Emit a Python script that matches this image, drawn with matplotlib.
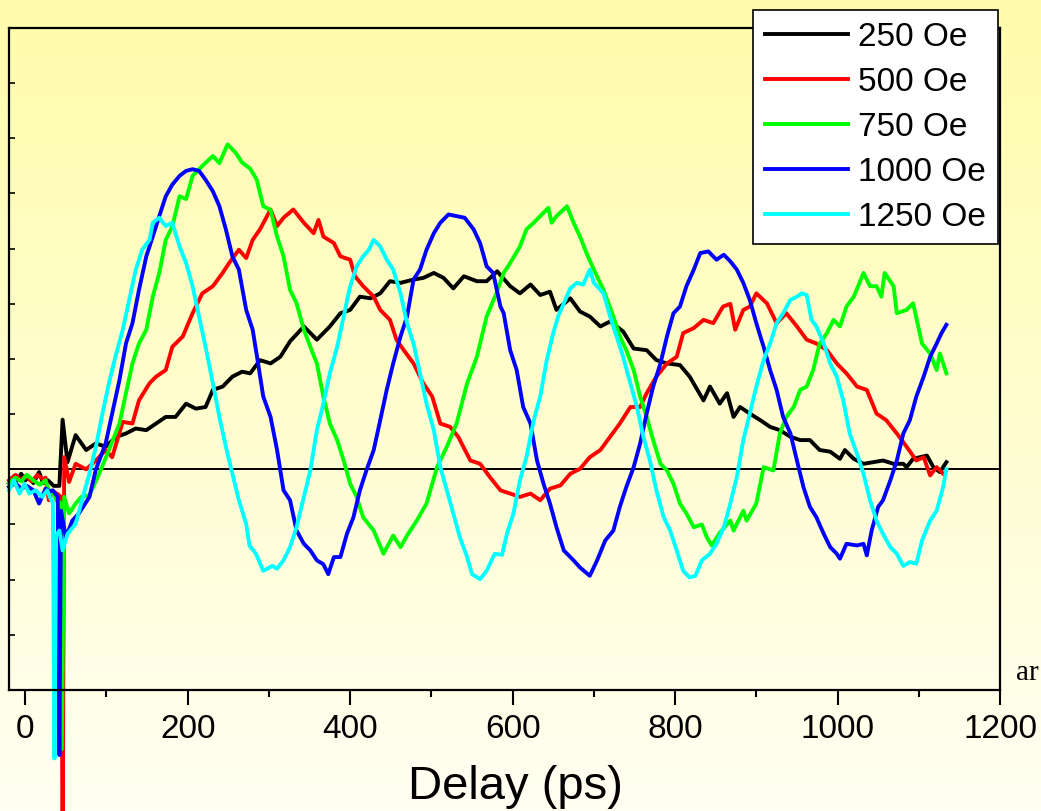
import numpy as np
import matplotlib
matplotlib.use("Agg")
import matplotlib.pyplot as plt
from matplotlib.ticker import MultipleLocator, NullFormatter

plt.rcParams['font.family'] = ['Liberation Sans', 'DejaVu Sans']

# Delay (ps) and signal (arb. units), one pair per field
labels = ["250 Oe", "500 Oe", "750 Oe", "1000 Oe", "1250 Oe"]
colors = ["#000000", "#ff0000", "#00ff00", "#0000ff", "#00ffff"]

black_t = [-20, -15, -10, -5, 0, 5, 10, 17, 22, 28, 35, 42, 46, 52, 62, 75, 87, 99, 112, 124, 136, 149, 161, 173,
           185, 198, 210, 222, 231, 243, 255, 267, 277, 289, 302, 314, 326, 343, 359, 375, 388, 400, 412, 425, 437,
           449, 462, 478, 490, 503, 515, 527, 540, 556, 568, 581, 597, 609, 622, 634, 646, 654, 671, 683, 695, 708,
           720, 736, 749, 765, 777, 790, 806, 818, 835, 843, 855, 864, 872, 880, 892, 905, 917, 929, 942, 954, 966,
           978, 991, 1003, 1009, 1020, 1032, 1044, 1056, 1069, 1081, 1085, 1093, 1110, 1118, 1126, 1134]
black_y = [-0.25, -0.15, -0.2, -0.08, -0.2, -0.15, -0.25, -0.05, -0.25, -0.2, -0.3, -0.3, 0.9, 0.13, 0.62, 0.35,
           0.47, 0.41, 0.59, 0.65, 0.74, 0.71, 0.83, 0.95, 0.95, 1.19, 1.1, 1.13, 1.44, 1.5, 1.68, 1.77, 1.74, 1.98,
           1.92, 2.04, 2.32, 2.59, 2.35, 2.59, 2.83, 2.89, 3.13, 3.1, 3.19, 3.41, 3.38, 3.44, 3.47, 3.56, 3.47, 3.28,
           3.5, 3.41, 3.41, 3.59, 3.32, 3.19, 3.35, 3.16, 3.22, 2.89, 3.1, 2.86, 2.77, 2.59, 2.68, 2.5, 2.19, 2.16,
           1.98, 1.92, 1.89, 1.68, 1.25, 1.5, 1.19, 1.38, 0.95, 1.13, 1.01, 0.89, 0.77, 0.71, 0.59, 0.53, 0.53, 0.35,
           0.32, 0.19, 0.35, 0.19, 0.1, 0.13, 0.16, 0.1, 0.1, 0.04, 0.19, 0.25, 0.04, -0.05, 0.13]

red_t = [-20, -12, -5, 0, 8, 15, 22, 25, 29, 34, 40, 44, 46, 48, 54, 62, 75, 87, 99, 107, 120, 132, 140, 153, 161,
         173, 181, 194, 206, 218, 231, 243, 251, 263, 272, 280, 289, 302, 310, 318, 330, 343, 355, 361, 367, 380,
         388, 400, 406, 416, 429, 437, 449, 457, 466, 478, 490, 501, 511, 523, 533, 548, 560, 572, 585, 597, 609,
         622, 634, 646, 659, 671, 683, 695, 708, 720, 732, 745, 757, 765, 777, 790, 802, 810, 823, 835, 847, 859,
         868, 874, 884, 892, 900, 913, 925, 937, 950, 962, 974, 987, 999, 1011, 1024, 1036, 1048, 1060, 1073, 1085,
         1097, 1106, 1114, 1122, 1130]
red_y = [-0.2, -0.1, -0.2, -0.12, -0.22, -0.1, -0.18, -0.15, -0.56, -0.4, -0.45, -0.5, -7.0, 0.22, -0.23, 0.1, 0.0,
         0.16, 0.35, 0.22, 0.86, 0.83, 1.25, 1.56, 1.68, 1.8, 2.22, 2.41, 2.83, 3.19, 3.32, 3.56, 3.74, 3.98, 3.83,
         4.16, 4.35, 4.71, 4.41, 4.56, 4.71, 4.47, 4.28, 4.52, 4.22, 4.1, 3.86, 3.8, 3.5, 3.32, 3.13, 2.89, 2.71,
         2.35, 2.16, 1.92, 1.56, 1.32, 0.83, 0.77, 0.59, 0.16, 0.1, -0.14, -0.38, -0.44, -0.5, -0.44, -0.56, -0.35,
         -0.29, -0.08, 0.01, 0.22, 0.35, 0.59, 0.83, 1.13, 1.13, 1.38, 1.68, 1.92, 2.04, 2.47, 2.56, 2.71, 2.65,
         2.95, 3.0, 2.53, 2.89, 2.95, 3.19, 3.01, 2.65, 2.83, 2.59, 2.35, 2.28, 2.16, 1.92, 1.74, 1.5, 1.44, 1.01,
         0.89, 0.65, 0.41, 0.16, 0.22, -0.11, 0.04, -0.08]

green_t = [-20, -12, -5, 2, 10, 18, 25, 29, 35, 38, 43, 45, 48, 54, 62, 69, 79, 91, 103, 116, 124, 132, 140, 149,
           157, 165, 173, 181, 190, 198, 206, 218, 231, 239, 249, 259, 267, 277, 285, 293, 302, 310, 318, 326, 334,
           343, 351, 359, 367, 375, 384, 392, 400, 408, 416, 429, 441, 453, 462, 470, 482, 494, 507, 519, 531, 544,
           556, 568, 580, 589, 597, 609, 617, 626, 638, 644, 648, 654, 667, 675, 683, 691, 700, 712, 724, 732, 740,
           749, 757, 765, 773, 782, 790, 798, 806, 814, 823, 833, 839, 845, 855, 868, 872, 884, 888, 900, 909, 921,
           929, 937, 946, 954, 962, 970, 978, 987, 995, 1003, 1011, 1020, 1032, 1040, 1048, 1054, 1058, 1069, 1073,
           1085, 1093, 1104, 1114, 1122, 1126, 1134]
green_y = [-0.25, -0.15, -0.22, -0.1, -0.2, -0.28, -0.2, -0.38, -0.45, -0.56, -0.6, -5.07, -0.5, -0.8, -0.62, -0.5,
           -0.47, -0.08, 0.35, 0.83, 1.38, 1.92, 2.28, 2.53, 3.13, 3.56, 4.16, 4.4, 4.95, 4.9, 5.32, 5.5, 5.68, 5.55,
           5.89, 5.74, 5.56, 5.45, 5.25, 4.77, 4.7, 4.22, 3.86, 3.25, 3.01, 2.53, 2.22, 1.92, 1.32, 0.83, 0.53, 0.16,
           -0.26, -0.5, -0.87, -1.11, -1.53, -1.2, -1.41, -1.2, -0.93, -0.62, 0.04, 0.41, 0.83, 1.56, 2.04, 2.77,
           3.19, 3.56, 3.74, 4.04, 4.35, 4.47, 4.65, 4.74, 4.47, 4.59, 4.77, 4.47, 4.22, 3.92, 3.62, 3.25, 2.77,
           2.41, 2.16, 1.8, 1.32, 0.95, 0.53, 0.1, -0.02, -0.26, -0.62, -0.8, -1.05, -1.0, -1.23, -1.38, -1.15,
           -0.93, -1.11, -0.75, -0.93, -0.62, 0.04, -0.02, 0.65, 0.95, 1.13, 1.44, 1.5, 1.8, 2.28, 2.47, 2.71, 2.59,
           2.95, 3.13, 3.56, 3.32, 3.32, 3.13, 3.56, 3.32, 2.83, 2.89, 3.01, 2.28, 2.1, 1.8, 2.1, 1.74]

blue_t = [-20, -12, -5, 2, 10, 17, 25, 30, 34, 40, 42, 44, 50, 58, 66, 79, 87, 99, 107, 116, 124, 132, 140, 149,
          157, 165, 173, 181, 190, 198, 206, 214, 222, 231, 239, 247, 255, 263, 272, 280, 286, 293, 302, 310, 318,
          326, 334, 343, 351, 359, 367, 373, 380, 388, 396, 404, 412, 420, 429, 437, 445, 453, 462, 470, 478, 486,
          494, 503, 511, 521, 531, 541, 552, 560, 568, 576, 585, 589, 597, 605, 613, 622, 630, 638, 646, 654, 663,
          675, 683, 695, 704, 714, 724, 732, 740, 749, 757, 765, 773, 782, 790, 798, 806, 814, 823, 831, 841, 851,
          860, 868, 876, 884, 892, 900, 909, 917, 925, 933, 942, 950, 958, 966, 974, 983, 991, 999, 1003, 1011,
          1024, 1032, 1036, 1042, 1050, 1056, 1065, 1073, 1081, 1089, 1097, 1106, 1114, 1122, 1128, 1134]
blue_y = [-0.32, -0.25, -0.35, -0.3, -0.38, -0.62, -0.35, -0.4, -0.38, -0.5, -5.18, -0.75, -1.23, -0.93, -0.8, -0.5,
          0.0, 0.47, 1.01, 1.62, 2.28, 2.65, 3.25, 3.86, 4.22, 4.59, 4.95, 5.16, 5.32, 5.41, 5.44, 5.41, 5.25, 5.04,
          4.77, 4.35, 3.86, 3.62, 2.89, 2.53, 1.98, 1.32, 0.95, 0.35, -0.38, -0.56, -1.11, -1.35, -1.47, -1.65,
          -1.72, -1.9, -1.59, -1.59, -1.17, -0.87, -0.38, -0.02, 0.35, 0.89, 1.44, 1.92, 2.41, 2.77, 3.44, 3.62,
          3.98, 4.28, 4.47, 4.62, 4.59, 4.56, 4.35, 4.1, 3.68, 3.56, 2.95, 2.83, 2.16, 1.8, 1.13, 0.83, 0.16, -0.26,
          -0.62, -1.05, -1.47, -1.65, -1.78, -1.93, -1.65, -1.29, -1.11, -0.68, -0.32, 0.04, 0.47, 1.01, 1.5, 1.92,
          2.41, 2.83, 2.95, 3.32, 3.62, 3.92, 3.95, 3.8, 3.89, 3.77, 3.62, 3.38, 3.07, 2.65, 2.22, 1.8, 1.44, 0.95,
          0.65, 0.16, -0.32, -0.68, -0.87, -1.17, -1.41, -1.53, -1.62, -1.35, -1.38, -1.35, -1.56, -1.11, -0.68,
          -0.56, -0.2, 0.16, 0.65, 0.89, 1.32, 1.68, 2.04, 2.28, 2.47, 2.62]

cyan_t = [-20, -14, -7, -1, 5, 13, 21, 27, 32, 34, 36, 38, 42, 46, 52, 62, 71, 79, 87, 95, 103, 111, 120, 128, 136,
          144, 153, 157, 165, 173, 181, 190, 198, 206, 214, 222, 231, 239, 247, 255, 263, 272, 276, 284, 293, 304,
          310, 318, 326, 334, 343, 351, 359, 367, 375, 384, 392, 400, 408, 416, 423, 429, 437, 445, 453, 462, 470,
          478, 486, 494, 503, 511, 519, 527, 535, 544, 550, 560, 568, 578, 587, 593, 601, 609, 617, 626, 634, 642,
          650, 656, 663, 671, 679, 687, 695, 700, 704, 712, 720, 728, 736, 745, 753, 761, 769, 777, 786, 794, 802,
          810, 818, 825, 833, 843, 851, 860, 868, 876, 884, 892, 900, 909, 917, 925, 933, 942, 950, 956, 962, 968,
          974, 983, 991, 999, 1007, 1015, 1024, 1032, 1040, 1048, 1056, 1065, 1073, 1081, 1089, 1097, 1104, 1114,
          1122, 1130, 1134]
cyan_y = [-0.38, -0.2, -0.44, -0.26, -0.44, -0.38, -0.5, -0.38, -0.56, -0.6, -5.24, -1.2, -1.11, -1.47, -1.17, -0.99,
          -0.5, -0.08, 0.41, 1.01, 1.56, 2.04, 2.53, 3.07, 3.62, 3.98, 4.16, 4.47, 4.56, 4.41, 4.47, 4.04, 3.74,
          3.32, 2.77, 2.22, 1.56, 0.95, 0.41, -0.08, -0.56, -0.99, -1.38, -1.53, -1.84, -1.75, -1.8, -1.65, -1.41,
          -1.05, -0.5, -0.02, 0.71, 1.19, 1.74, 2.22, 2.77, 3.32, 3.68, 3.86, 3.98, 4.16, 4.04, 3.8, 3.62, 3.19,
          2.65, 2.28, 1.74, 1.19, 0.71, 0.04, -0.38, -0.8, -1.23, -1.59, -1.9, -1.99, -1.84, -1.53, -1.55, -1.17,
          -0.8, -0.2, 0.22, 0.89, 1.32, 1.98, 2.47, 2.77, 3.01, 3.28, 3.38, 3.35, 3.62, 3.38, 3.32, 3.19, 2.77,
          2.41, 2.04, 1.56, 1.13, 0.59, 0.16, -0.38, -0.87, -1.11, -1.47, -1.84, -1.96, -1.93, -1.65, -1.53, -1.35,
          -1.05, -0.62, -0.14, 0.53, 1.01, 1.5, 1.98, 2.28, 2.65, 2.83, 3.07, 3.13, 3.19, 3.16, 2.71, 2.59, 2.28,
          1.92, 1.68, 1.25, 0.65, 0.28, -0.08, -0.56, -0.93, -1.17, -1.41, -1.53, -1.75, -1.68, -1.71, -1.29,
          -0.93, -0.75, -0.32, 0.0]

series = [(black_t, black_y), (red_t, red_y), (green_t, green_y), (blue_t, blue_y), (cyan_t, cyan_y)]

W, H = 1041, 811
fig = plt.figure(figsize=(W / 100, H / 100), dpi=100)

# background: pale yellow fading to cream
bg = fig.add_axes([0, 0, 1, 1], zorder=-10)
grad = np.linspace(0, 1, 256).reshape(-1, 1)
top = np.array([1.0, 0.988, 0.667])
bottom = np.array([1.0, 1.0, 0.95])
img = top[None, None, :] * (1 - grad[:, :, None]) + bottom[None, None, :] * grad[:, :, None]
bg.imshow(img, aspect="auto", extent=[0, 1, 0, 1])
bg.axis("off")

ax = fig.add_axes([9 / W, 1 - 690 / H, (1000 - 9) / W, (690 - 28) / H])
ax.patch.set_alpha(0)

ax.axhline(0, color="black", lw=1.4, zorder=1)
for (t, y), c, lab in zip(series, colors, labels):
    ax.plot(t, y, color=c, lw=2.8, label=lab, clip_on=False, zorder=2)

ax.set_xlim(-20, 1200)
ax.set_ylim(-4, 8)

ax.xaxis.set_major_locator(MultipleLocator(200))
ax.xaxis.set_minor_locator(MultipleLocator(100))
ax.yaxis.set_major_locator(MultipleLocator(1))
ax.yaxis.set_major_formatter(NullFormatter())
ax.tick_params(axis="x", which="major", direction="out", length=11, width=1.5, labelsize=24, pad=6)
ax.tick_params(axis="x", which="minor", direction="out", length=5, width=1.5)
ax.tick_params(axis="y", which="major", direction="in", length=4, width=1.2)
for sp in ax.spines.values():
    sp.set_linewidth(1.6)

ax.set_xlabel("Delay (ps)", fontsize=34)
ax.xaxis.set_label_coords((515 - 9) / 991, -0.113)

leg = ax.legend(loc="upper right", bbox_to_anchor=(998 / W, 1 - 10 / H), bbox_transform=fig.transFigure,
                borderaxespad=0, fontsize=24, handlelength=2.5, handletextpad=0.3, labelspacing=0.42,
                borderpad=0.35, fancybox=False, framealpha=1, edgecolor="black")
leg.get_frame().set_linewidth(1.2)
for line in leg.get_lines():
    line.set_linewidth(2.8)

fig.text(1016 / W, 1 - 680 / H, "ar", fontsize=21, family="Liberation Serif", va="baseline", ha="left")

fig.savefig("out.png", dpi=100)
